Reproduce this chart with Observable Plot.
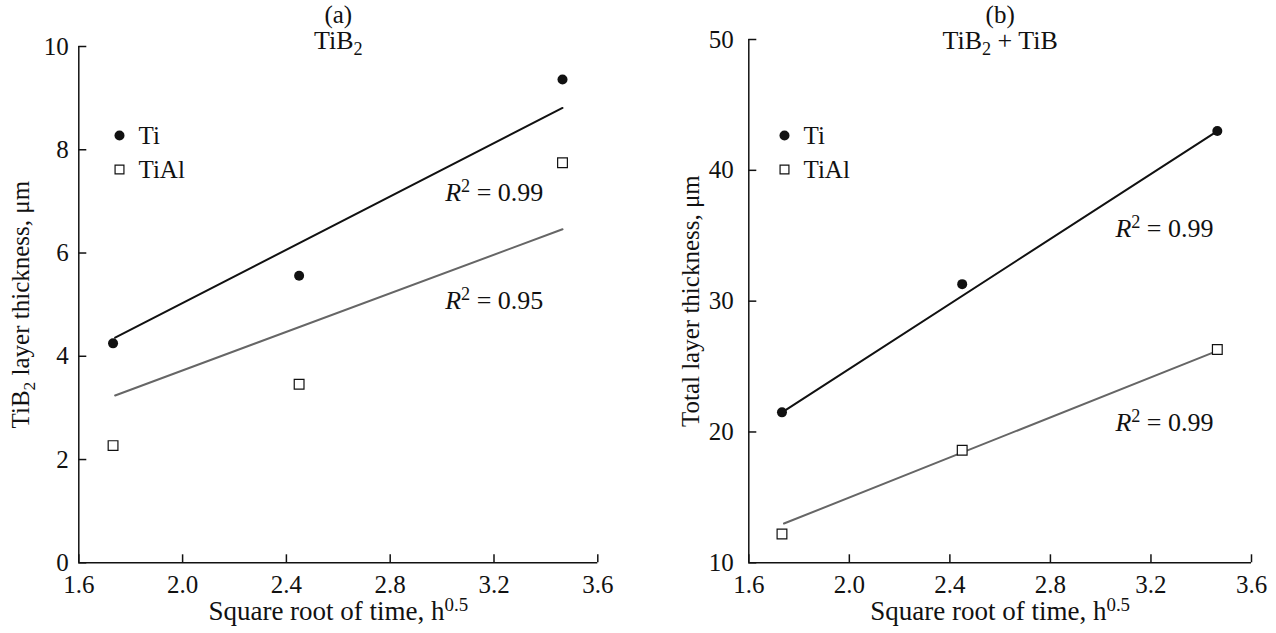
<!DOCTYPE html>
<html><head><meta charset="utf-8">
<script src="https://cdn.jsdelivr.net/npm/d3@7"></script>
<script src="https://cdn.jsdelivr.net/npm/@observablehq/plot@0.6"></script>
<style>
body{margin:0;background:#fff;}
#wrap{display:flex;width:1276px;height:633px;}
#wrap svg{flex:none;}
</style></head><body><div id="wrap"></div>
<script>
// ---- data ----
const times = [1.732, 2.449, 3.464];          // sqrt(time), h^0.5
const fitX = [1.74, 3.464];                   // extent of the fitted lines
const seriesNames = ["Ti", "TiAl"];
const xTicks = [1.6, 2.0, 2.4, 2.8, 3.2, 3.6];

// (a) TiB2
const tib2Ti = [4.25, 5.56, 9.36];
const tib2TiAl = [2.27, 3.46, 7.75];
const tib2FitTi = [4.36, 8.81];
const tib2FitTiAl = [3.24, 6.46];
const yTicksA = [0, 2, 4, 6, 8, 10];
const r2A = ["*R*^{2} = 0.99", "*R*^{2} = 0.95"];
const r2AY = [7.17, 5.08];

// (b) TiB2 + TiB
const totalTi = [21.5, 31.3, 43.0];
const totalTiAl = [12.2, 18.6, 26.3];
const totalFitTi = [21.6, 43.0];
const totalFitTiAl = [13.0, 26.2];
const yTicksB = [10, 20, 30, 40, 50];
const r2B = ["*R*^{2} = 0.99", "*R*^{2} = 0.99"];
const r2BY = [35.55, 20.73];

const xLabel = "Square root of time, h^{0.5}";

function pts(xs, ys){ return xs.map((x, i) => ({x, y: ys[i]})); }

function panel(o){
  const fs = 25;
  return Plot.plot({
    width: 638, height: 633,
    marginTop: o.mt, marginBottom: 70.7, marginLeft: o.ml, marginRight: o.mr,
    x: {domain: [1.6, 3.6]},
    y: {domain: o.yDomain},
    style: `font-family: 'Liberation Serif', 'Times New Roman', serif; font-size: ${fs}px; color: #111; background: white; overflow: visible;`,
    marks: [
      Plot.axisX({ticks: xTicks, tickSize: -8, tickPadding: 20, strokeWidth: 1.5, fontSize: fs, tickFormat: d => d.toFixed(1), label: null}),
      Plot.axisY({ticks: o.yTicks, tickSize: -8, tickPadding: o.padY, strokeWidth: 1.5, fontSize: fs, label: null}),
      Plot.ruleY([o.yDomain[0]], {stroke: "#111", strokeWidth: 1.5}),
      Plot.ruleX([1.6], {stroke: "#111", strokeWidth: 1.5}),
      Plot.line(pts(fitX, o.fitTiAl), {x: "x", y: "y", stroke: "#666", strokeWidth: 2}),
      Plot.line(pts(fitX, o.fitTi), {x: "x", y: "y", stroke: "#111", strokeWidth: 2}),
      Plot.dot(pts(times, o.ti), {x: "x", y: "y", r: 5, fill: "#111"}),
      Plot.dot(pts(times, o.tiAl), {x: "x", y: "y", r: 5.5, symbol: "square", fill: "white", stroke: "#111", strokeWidth: 1.2}),
      // legend
      Plot.dot([seriesNames[0]], {frameAnchor: "top-left", dx: o.legDx, dy: o.legDy[0], r: 5, fill: "#111"}),
      Plot.dot([seriesNames[1]], {frameAnchor: "top-left", dx: o.legDx, dy: o.legDy[1], r: 5, symbol: "square", fill: "white", stroke: "#111", strokeWidth: 1.2}),
      Plot.text([seriesNames[0]], {frameAnchor: "top-left", text: d => d, textAnchor: "start", lineAnchor: "middle", fontSize: 25, dx: o.legDx + 19, dy: o.legDy[0]}),
      Plot.text([seriesNames[1]], {frameAnchor: "top-left", text: d => d, textAnchor: "start", lineAnchor: "middle", fontSize: 25, dx: o.legDx + 19, dy: o.legDy[1]}),
      // R^2 labels
      Plot.text(o.r2, {x: () => o.r2X, y: (d, i) => o.r2Y[i], text: d => d, textAnchor: "end", fontSize: 26}),
      // titles
      Plot.text([o.tag], {frameAnchor: "top", lineAnchor: "middle", dy: o.tagDy, text: d => d, fontSize: 25}),
      Plot.text([o.title], {frameAnchor: "top", lineAnchor: "middle", dy: o.titleDy, text: d => d, fontSize: 26}),
      Plot.text([xLabel], {frameAnchor: "bottom", lineAnchor: "middle", dy: 49, text: d => d, fontSize: 27}),
      Plot.text([o.yLabel], {frameAnchor: "left", textAnchor: "middle", lineAnchor: "middle", dx: -58, rotate: -90, text: d => d, fontSize: 25})
    ]
  });
}

function richify(svg){
  svg.querySelectorAll("text").forEach(t => {
    const s = t.textContent;
    if (!/[\^_*]/.test(s)) return;
    const parts = s.split(/(\*[^*]+\*|\^\{[^}]*\}|_\{[^}]*\})/).filter(p => p !== "");
    t.textContent = "";
    let shift = 0;
    const ns = "http://www.w3.org/2000/svg";
    for (const p of parts){
      const ts = document.createElementNS(ns, "tspan");
      let target = 0;
      if (p.startsWith("*")) { ts.textContent = p.slice(1, -1); ts.setAttribute("font-style", "italic"); }
      else if (p.startsWith("^")) { ts.textContent = p.slice(2, -1); ts.setAttribute("font-size", "70%"); target = -9; }
      else if (p.startsWith("_")) { ts.textContent = p.slice(2, -1); ts.setAttribute("font-size", "70%"); target = 6; }
      else { ts.textContent = p; }
      if (target !== shift) { ts.setAttribute("dy", (target - shift) + "px"); shift = target; }
      t.appendChild(ts);
    }
  });
}

const wrap = document.getElementById("wrap");

const A = panel({
  mt: 46, ml: 78.3, mr: 638 - 597.3, padY: 18, yDomain: [0, 10], yTicks: yTicksA,
  ti: tib2Ti, tiAl: tib2TiAl, fitTi: tib2FitTi, fitTiAl: tib2FitTiAl,
  legDx: 40.7, legDy: [89, 123],
  r2: r2A, r2X: 3.39, r2Y: r2AY,
  tag: "(a)", tagDy: -32, title: "TiB_{2}", titleDy: -6,
  yLabel: "TiB_{2} layer thickness, μm"
});
const B = panel({
  mt: 39, ml: 110.3, mr: 638 - 613, padY: 23, yDomain: [10, 50], yTicks: yTicksB,
  ti: totalTi, tiAl: totalTiAl, fitTi: totalFitTi, fitTiAl: totalFitTiAl,
  legDx: 35.7, legDy: [96, 130],
  r2: r2B, r2X: 3.449, r2Y: r2BY,
  tag: "(b)", tagDy: -25, title: "TiB_{2} + TiB", titleDy: 1,
  yLabel: "Total layer thickness, μm"
});
wrap.append(A, B);
richify(A); richify(B);
</script></body></html>
